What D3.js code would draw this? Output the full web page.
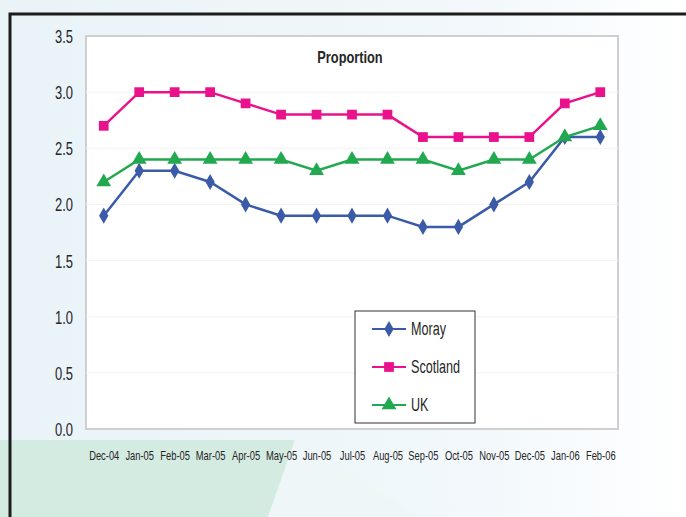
<!DOCTYPE html>
<html>
<head>
<meta charset="utf-8">
<script src="https://cdn.jsdelivr.net/npm/d3@7"></script>
<style>
  body { margin: 0; background: #fff; }
  svg text { font-family: "Liberation Sans", Arial, sans-serif; fill: #262626; }
</style>
</head>
<body>
<div id="chart"></div>
<script>
// data
const months = ["Dec-04", "Jan-05", "Feb-05", "Mar-05", "Apr-05", "May-05", "Jun-05", "Jul-05",
  "Aug-05", "Sep-05", "Oct-05", "Nov-05", "Dec-05", "Jan-06", "Feb-06"];
const moray = [1.9, 2.3, 2.3, 2.2, 2.0, 1.9, 1.9, 1.9, 1.9, 1.8, 1.8, 2.0, 2.2, 2.6, 2.6];
const scotland = [2.7, 3.0, 3.0, 3.0, 2.9, 2.8, 2.8, 2.8, 2.8, 2.6, 2.6, 2.6, 2.6, 2.9, 3.0];
const uk = [2.2, 2.4, 2.4, 2.4, 2.4, 2.4, 2.3, 2.4, 2.4, 2.4, 2.3, 2.4, 2.4, 2.6, 2.7];
const yTicks = [0, 0.5, 1, 1.5, 2, 2.5, 3, 3.5];

const series = [
  { name: "Moray", values: moray, color: "#3b5ba9", shape: d3.symbolDiamond },
  { name: "Scotland", values: scotland, color: "#ea118d", shape: d3.symbolSquare },
  { name: "UK", values: uk, color: "#22a94f", shape: d3.symbolTriangle }
];

const W = 686, H = 517;
const plot = { left: 86, top: 36, right: 618, bottom: 429 };

const svg = d3.select("#chart").append("svg").attr("width", W).attr("height", H);

// squeeze text horizontally, the original uses a condensed face
function condense(sel, k) {
  sel.each(function () {
    const t = d3.select(this);
    const tx = +t.attr("x") || 0, ty = +t.attr("y") || 0;
    t.attr("x", 0).attr("y", 0).attr("transform", `translate(${tx},${ty}) scale(${k},1)`);
  });
}

// background decoration
const defs = svg.append("defs");
const bg = defs.append("linearGradient").attr("id", "bg").attr("x1", 0).attr("y1", 0).attr("x2", 1).attr("y2", 0);
bg.append("stop").attr("offset", "0%").attr("stop-color", "#e9f3f8");
bg.append("stop").attr("offset", "70%").attr("stop-color", "#f2f8fb");
bg.append("stop").attr("offset", "100%").attr("stop-color", "#ffffff");
svg.append("rect").attr("width", W).attr("height", H).attr("fill", "url(#bg)");
svg.append("polygon").attr("points", "0,440 295,440 268,517 0,517").attr("fill", "#d4ebe1");
svg.append("polygon").attr("points", "295,440 420,517 268,517").attr("fill", "#eef6f7");

// outer frame
svg.append("rect").attr("x", 10).attr("y", 14).attr("width", W).attr("height", H)
  .attr("fill", "none").attr("stroke", "#1c1c1c").attr("stroke-width", 3);

const x = d3.scalePoint().domain(months).range([plot.left, plot.right]).padding(0.5);
const y = d3.scaleLinear().domain([0, 3.5]).range([plot.bottom, plot.top]);

svg.append("rect").attr("x", plot.left).attr("y", plot.top)
  .attr("width", plot.right - plot.left).attr("height", plot.bottom - plot.top)
  .attr("fill", "#fff").attr("stroke", "#cfcfcf").attr("stroke-width", 2);

// faint gridlines
svg.append("g").selectAll("line").data(yTicks.slice(1, -1)).join("line")
  .attr("x1", plot.left).attr("x2", plot.right)
  .attr("y1", d => y(d)).attr("y2", d => y(d))
  .attr("stroke", "#f3f3f3");

// y axis labels
const yAxis = svg.append("g").attr("transform", `translate(${plot.left - 13},0)`)
  .call(d3.axisLeft(y).tickValues(yTicks).tickFormat(d3.format(".1f")).tickSize(0));
yAxis.select(".domain").remove();
yAxis.selectAll("text").attr("font-size", 18).attr("dy", "0.36em").attr("x", 0);
condense(yAxis.selectAll("text"), 0.72);

// x axis labels
const xAxis = svg.append("g").attr("transform", `translate(0,${plot.bottom + 20})`)
  .call(d3.axisBottom(x).tickSize(0));
xAxis.select(".domain").remove();
xAxis.selectAll("text").attr("font-size", 13).attr("dy", "0.35em").attr("y", 6);
condense(xAxis.selectAll("text"), 0.72);

const title = svg.append("text").attr("x", 350).attr("y", 63).attr("text-anchor", "middle")
  .attr("font-size", 16).attr("font-weight", "bold").text("Proportion");
condense(title, 0.8);

const line = d3.line().x((d, i) => x(months[i])).y(d => y(d));

series.forEach(s => {
  const g = svg.append("g");
  g.append("path").datum(s.values).attr("d", line)
    .attr("fill", "none").attr("stroke", s.color).attr("stroke-width", 2.5);
  g.selectAll("path.pt").data(s.values).join("path").attr("class", "pt")
    .attr("transform", (d, i) => `translate(${x(months[i])},${y(d)})`)
    .attr("d", d3.symbol(s.shape, s.shape === d3.symbolDiamond ? 75 : 95))
    .attr("fill", s.color);
});

// legend
const lg = svg.append("g").attr("transform", "translate(355,311)");
lg.append("rect").attr("width", 120).attr("height", 112)
  .attr("fill", "#fff").attr("stroke", "#333").attr("stroke-width", 1);
series.forEach((s, i) => {
  const ly = 18 + i * 38;
  lg.append("line").attr("x1", 17).attr("x2", 51).attr("y1", ly).attr("y2", ly)
    .attr("stroke", s.color).attr("stroke-width", 2);
  lg.append("path").attr("transform", `translate(34,${ly})`)
    .attr("d", d3.symbol(s.shape, s.shape === d3.symbolDiamond ? 75 : 95)).attr("fill", s.color);
  const t = lg.append("text").attr("x", 56).attr("y", ly).attr("dy", "0.36em")
    .attr("font-size", 18).text(s.name);
  condense(t, 0.7);
});
</script>
</body>
</html>
